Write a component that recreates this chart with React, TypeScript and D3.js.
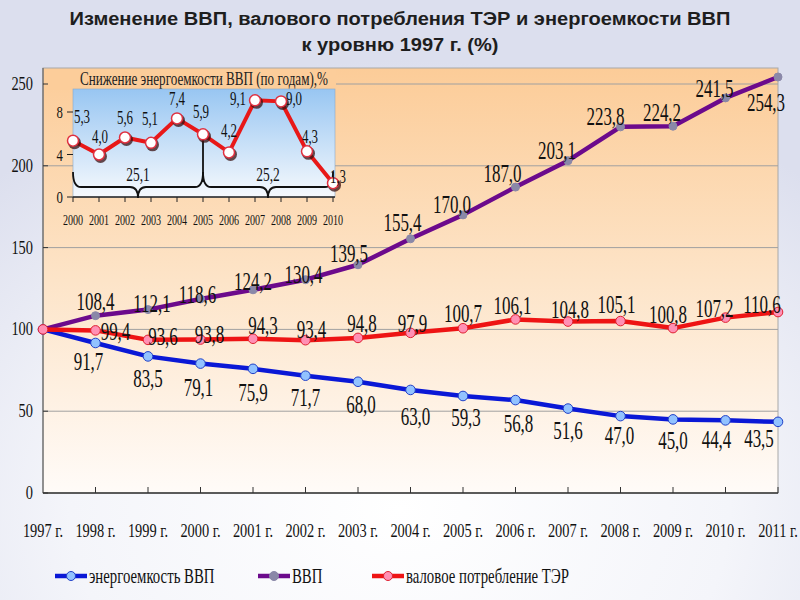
import React from 'react';
import * as d3 from 'd3';

const years = ['1997 г.', '1998 г.', '1999 г.', '2000 г.', '2001 г.', '2002 г.', '2003 г.', '2004 г.', '2005 г.', '2006 г.', '2007 г.', '2008 г.', '2009 г.', '2010 г.', '2011 г.'];
const energyIntensity = [100, 91.7, 83.5, 79.1, 75.9, 71.7, 68.0, 63.0, 59.3, 56.8, 51.6, 47.0, 45.0, 44.4, 43.5];
const gdp = [100, 108.4, 112.1, 118.6, 124.2, 130.4, 139.5, 155.4, 170.0, 187.0, 203.1, 223.8, 224.2, 241.5, 254.3];
const consumption = [100, 99.4, 93.6, 93.8, 94.3, 93.4, 94.8, 97.9, 100.7, 106.1, 104.8, 105.1, 100.8, 107.2, 110.6];
const yTicks = [0, 50, 100, 150, 200, 250];

const insetYears = ['2000', '2001', '2002', '2003', '2004', '2005', '2006', '2007', '2008', '2009', '2010'];
const insetDecline = [5.3, 4.0, 5.6, 5.1, 7.4, 5.9, 4.2, 9.1, 9.0, 4.3, 1.3];
const insetTicks = [0, 4, 8];
const periodTotals = ['25,1', '25,2'];

const legendNames = ['энергоемкость ВВП', 'ВВП', 'валовое потребление ТЭР'];

// label offsets (layout only): [dx, dy] from point to label baseline center
const blueOff: [number, number][] = [[0, 0], [-7, 27], [0, 31], [-2, 32], [0, 32], [0, 30], [3, 31], [5, 35], [3, 30], [3, 32], [0, 30], [-1, 28], [0, 30], [-9, 28], [-19, 25]];
const purpleOff: [number, number][] = [[0, 0], [0, -6], [4, 2], [-3, 4], [0, 0], [-2, 3], [-9, -3], [-8, -8], [-11, -2], [-13, -5], [-11, -2], [-15, -2], [-11, -5], [-11, -1], [-12, 34]];
const redOff: [number, number][] = [[0, 0], [20, 10], [15, 5], [9, 3], [10, -5], [6, -2], [4, -6], [2, -1], [0, -6], [-3, -5], [2, -4], [-4, -8], [-5, -5], [-11, -1], [-16, 1]];
const insetOff: [number, number][] = [[9, -18], [1, -12], [0, -14], [-1, -18], [0, -13], [-2, -16], [0, -15], [-17, 5], [13, 4], [3, -8], [5, 0]];

const fmt = (v: number) => d3.format('.1f')(v).replace('.', ',');

const SERIF = '"Liberation Serif", "DejaVu Serif", serif';

function CText({ x, y, text, size, sx = 0.7, anchor = 'middle', fill = '#111' }: any) {
  return (
    <g transform={`translate(${x},${y}) scale(${sx},1)`}>
      <text x={0} y={0} textAnchor={anchor} fontFamily={SERIF} fontSize={size} fill={fill}>{text}</text>
    </g>
  );
}

export default function App() {
  const W = 800, H = 600;
  const x = d3.scalePoint<string>().domain(years).range([43, 778]);
  const y = d3.scaleLinear().domain([0, 250]).range([493, 84]);
  const plotTop = 68, plotBottom = 493, plotLeft = 43, plotRight = 778;

  const line = d3.line<number>().x((_, i) => x(years[i]) as number).y((d) => y(d));

  const xi = d3.scalePoint<string>().domain(insetYears).range([73, 333]);
  const yi = d3.scaleLinear().domain([0, 8]).range([197, 112]);
  const iline = d3.line<number>().x((_, i) => xi(insetYears[i]) as number).y((d) => yi(d));

  const series = [
    { vals: energyIntensity, color: '#0a18d6', mFill: '#92c2ff', mStroke: '#2040c8', off: blueOff },
    { vals: gdp, color: '#6c0a8c', mFill: '#8a88a8', mStroke: '#8a88a8', off: purpleOff },
    { vals: consumption, color: '#ee1414', mFill: '#ff90b4', mStroke: '#e02030', off: redOff },
  ];

  const brace = (x1: number, x2: number, yTop: number, yMid: number, yTip: number) => {
    const m = (x1 + x2) / 2;
    const r = 8;
    return `M${x1},${yTop} Q${x1},${yMid} ${x1 + r},${yMid} L${m - r},${yMid} Q${m},${yMid} ${m},${yTip} Q${m},${yMid} ${m + r},${yMid} L${x2 - r},${yMid} Q${x2},${yMid} ${x2},${yTop}`;
  };
  const x2005 = xi('2005') as number;

  const legendX = [55, 258, 372];
  const legendY = 576;

  return (
    <svg width={W} height={H} style={{ position: 'absolute', left: 0, top: 0, display: 'block' }}>
      <defs>
        <radialGradient id="bg" cx="50%" cy="85%" r="75%">
          <stop offset="0%" stopColor="#ffffff" />
          <stop offset="55%" stopColor="#f4f5fa" />
          <stop offset="100%" stopColor="#dcdfee" />
        </radialGradient>
        <linearGradient id="plotBg" x1="0" y1="0" x2="0" y2="1">
          <stop offset="0%" stopColor="#fccc98" />
          <stop offset="50%" stopColor="#fde4c8" />
          <stop offset="100%" stopColor="#fffbf8" />
        </linearGradient>
        <linearGradient id="insetBg" x1="0" y1="0" x2="0" y2="1">
          <stop offset="0%" stopColor="#98c6f2" />
          <stop offset="100%" stopColor="#f6f9fd" />
        </linearGradient>
      </defs>
      <rect x={0} y={0} width={W} height={H} fill="url(#bg)" />

      {/* title */}
      <text x={400} y={25} textAnchor="middle" fontFamily='"Liberation Sans", Arial, sans-serif' fontWeight="bold" fontSize={18} fill="#1e1e1e" textLength={661} lengthAdjust="spacingAndGlyphs">Изменение ВВП, валового потребления ТЭР и энергоемкости ВВП</text>
      <text x={400} y={51} textAnchor="middle" fontFamily='"Liberation Sans", Arial, sans-serif' fontWeight="bold" fontSize={18} fill="#1e1e1e" textLength={197} lengthAdjust="spacingAndGlyphs">к уровню 1997 г. (%)</text>

      {/* plot area */}
      <rect x={plotLeft} y={plotTop} width={plotRight - plotLeft} height={plotBottom - plotTop} fill="url(#plotBg)" stroke="#a8a8a8" strokeWidth={1} />
      {yTicks.filter((t) => t > 0).map((t) => (
        <line key={t} x1={plotLeft} x2={plotRight} y1={y(t)} y2={y(t)} stroke="#a0a0a0" strokeWidth={1} />
      ))}
      {/* inset title background covering top gridline */}
      <rect x={plotLeft + 1} y={plotTop + 2} width={292} height={20} fill="#fccd9a" />

      {/* axes */}
      <line x1={plotLeft} x2={plotLeft} y1={plotTop} y2={plotBottom} stroke="#666" strokeWidth={1.2} />
      <line x1={plotLeft} x2={plotRight} y1={plotBottom} y2={plotBottom} stroke="#333" strokeWidth={1.5} />
      {yTicks.map((t) => (
        <g key={t}>
          <line x1={plotLeft} x2={plotLeft + 5} y1={y(t)} y2={y(t)} stroke="#333" strokeWidth={1} />
          <CText x={33} y={y(t) + 6} text={String(t)} size={18} sx={0.8} anchor="end" />
        </g>
      ))}
      {years.map((yr, i) => (
        <g key={yr}>
          {i > 0 && <line x1={x(yr)} x2={x(yr)} y1={plotBottom} y2={plotBottom - 6} stroke="#333" strokeWidth={1} />}
          <CText x={x(yr) as number} y={537} text={yr} size={18} sx={0.8} />
        </g>
      ))}

      {/* inset */}
      <text x={80} y={85} fontFamily={SERIF} fontSize={19} fill="#222" textLength={248} lengthAdjust="spacingAndGlyphs">Снижение энергоемкости ВВП (по годам),%</text>
      <rect x={73} y={89} width={262} height={108} fill="url(#insetBg)" stroke="#8aa8c8" strokeWidth={0.6} />
      <line x1={73} x2={335} y1={197} y2={197} stroke="#222" strokeWidth={1.5} />
      {insetYears.map((yr) => (
        <g key={yr}>
          <line x1={xi(yr)} x2={xi(yr)} y1={197} y2={202} stroke="#222" strokeWidth={1} />
          <CText x={xi(yr) as number} y={225} text={yr} size={14} sx={0.72} />
        </g>
      ))}
      {insetTicks.map((t) => (
        <g key={t}>
          <line x1={67} x2={73} y1={yi(t)} y2={yi(t)} stroke="#222" strokeWidth={1} />
          <CText x={63} y={yi(t) + 6} text={String(t)} size={17} sx={0.75} anchor="end" />
        </g>
      ))}
      <line x1={x2005} x2={x2005} y1={yi(5.9)} y2={182} stroke="#111" strokeWidth={1.8} />
      <path d={brace(73, x2005, 172, 187, 198)} fill="none" stroke="#111" strokeWidth={1.8} />
      <path d={brace(x2005, 333, 172, 187, 198)} fill="none" stroke="#111" strokeWidth={1.8} />
      <CText x={(73 + x2005) / 2} y={181} text={periodTotals[0]} size={18} sx={0.75} />
      <CText x={(x2005 + 333) / 2} y={181} text={periodTotals[1]} size={18} sx={0.75} />
      <path d={iline(insetDecline) as string} fill="none" stroke="#e81818" strokeWidth={4} strokeLinejoin="round" />
      {insetDecline.map((v, i) => (
        <g key={i}>
          <circle cx={(xi(insetYears[i]) as number) + 1.5} cy={yi(v) + 2} r={6.5} fill="#3a1010" opacity={0.75} />
          <circle cx={xi(insetYears[i])} cy={yi(v)} r={5.5} fill="#ffffff" stroke="#e03040" strokeWidth={1.5} />
        </g>
      ))}
      {insetDecline.map((v, i) => (
        <CText key={i} x={(xi(insetYears[i]) as number) + insetOff[i][0]} y={yi(v) + insetOff[i][1]} text={fmt(v)} size={18} sx={0.72} />
      ))}

      {/* main series */}
      {series.map((s, si) => (
        <g key={si}>
          <path d={line(s.vals) as string} fill="none" stroke={s.color} strokeWidth={4.5} strokeLinejoin="round" />
          {s.vals.map((v, i) => (
            <circle key={i} cx={x(years[i])} cy={y(v)} r={si === 1 ? 4 : 4.8} fill={s.mFill} stroke={s.mStroke} strokeWidth={1} />
          ))}
        </g>
      ))}
      {series.map((s, si) =>
        s.vals.map((v, i) =>
          i === 0 ? null : (
            <CText key={`${si}-${i}`} x={(x(years[i]) as number) + s.off[i][0]} y={y(v) + s.off[i][1]} text={fmt(v)} size={25} sx={0.68} />
          )
        )
      )}

      {/* legend */}
      {series.map((s, si) => (
        <g key={si}>
          <line x1={legendX[si]} x2={legendX[si] + 32} y1={legendY} y2={legendY} stroke={s.color} strokeWidth={4.5} />
          <circle cx={legendX[si] + 16} cy={legendY} r={4.5} fill={s.mFill} stroke={s.mStroke} strokeWidth={1} />
          <CText x={legendX[si] + 34} y={legendY + 7} text={legendNames[si]} size={20} sx={0.74} anchor="start" />
        </g>
      ))}
    </svg>
  );
}
